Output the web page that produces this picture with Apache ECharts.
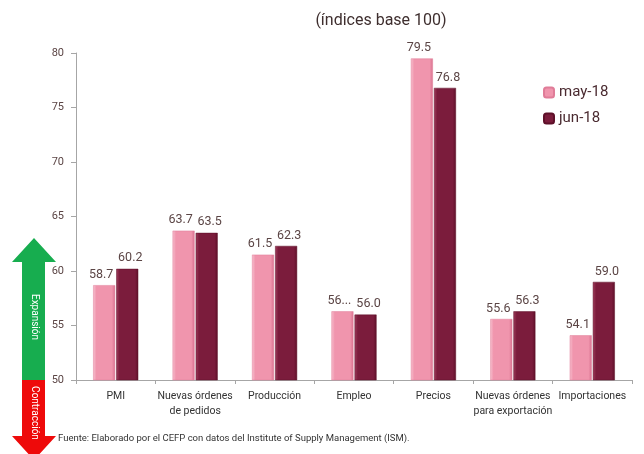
<!DOCTYPE html>
<html>
<head>
<meta charset="utf-8">
<script src="https://cdn.jsdelivr.net/npm/echarts@6/dist/echarts.min.js"></script>
<style>
  html, body { margin: 0; padding: 0; background: #fff; }
  #chart { width: 644px; height: 454px; }
</style>
</head>
<body>
<div id="chart"></div>
<script>
const categories = ['PMI', 'Nuevas órdenes\nde pedidos', 'Producción', 'Empleo', 'Precios', 'Nuevas órdenes\npara exportación', 'Importaciones']
const seriesNames = ['may-18', 'jun-18']
const may18 = [58.7, 63.7, 61.5, 56.3, 79.5, 55.6, 54.1]
const jun18 = [60.2, 63.5, 62.3, 56.0, 76.8, 56.3, 59.0]
// label text as shown on the chart (one was cut short)
const may18Labels = ['58.7', '63.7', '61.5', '56...', '79.5', '55.6', '54.1']
const yTicks = [50, 55, 60, 65, 70, 75, 80]

const FONT = 'Roboto'
const TEXT = '#5b4545'

const chart = echarts.init(document.getElementById('chart'))

function barGrad(light, mid, dark) {
  return new echarts.graphic.LinearGradient(0, 0, 1, 0, [
    { offset: 0, color: light },
    { offset: 0.15, color: mid },
    { offset: 0.85, color: mid },
    { offset: 1, color: dark },
  ])
}

const option = {
  backgroundColor: '#fff',
  animation: false,
  textStyle: { fontFamily: FONT },
  title: {
    text: '(índices base 100)',
    left: 376,
    textAlign: 'center',
    top: 8,
    textStyle: { fontFamily: FONT, fontSize: 16, fontWeight: 'normal', color: '#3e2e2e' },
  },
  legend: {
    orient: 'vertical',
    left: 538,
    top: 80,
    itemWidth: 10,
    itemHeight: 10,
    itemGap: 11,
    textStyle: { fontFamily: FONT, fontSize: 15, color: '#4a2a30' },
    data: seriesNames,
  },
  grid: { left: 76, right: 12, top: 53, bottom: 74 },
  xAxis: {
    type: 'category',
    data: categories,
    axisLine: { lineStyle: { color: '#a6a6a6' } },
    axisTick: { show: true, length: 4, lineStyle: { color: '#a6a6a6' } },
    axisLabel: { fontFamily: FONT, fontSize: 10.5, color: '#333', interval: 0, lineHeight: 15, margin: 9 },
  },
  yAxis: {
    type: 'value',
    min: yTicks[0],
    max: yTicks[yTicks.length - 1],
    interval: 5,
    axisLine: { show: true, lineStyle: { color: '#a6a6a6' } },
    axisTick: { show: true, length: 5, lineStyle: { color: '#a6a6a6' } },
    splitLine: { show: false },
    axisLabel: { fontFamily: FONT, fontSize: 11, color: TEXT, margin: 12 },
  },
  series: [
    {
      name: seriesNames[0],
      type: 'bar',
      data: may18,
      barWidth: 22,
      barGap: '5%',
      itemStyle: { color: barGrad('#f7c0cf', '#f095ad', '#d8718f'), borderColor: '#e07c98', borderWidth: 0.5 },
      label: {
        show: true,
        position: 'top',
        distance: 4,
        offset: [-3, 0],
        fontFamily: FONT,
        fontSize: 12.5,
        color: TEXT,
        formatter: p => may18Labels[p.dataIndex],
      },
    },
    {
      name: seriesNames[1],
      type: 'bar',
      data: jun18,
      barWidth: 22,
      itemStyle: { color: barGrad('#a03c5c', '#7b1c3c', '#5e1029'), borderColor: '#5e1029', borderWidth: 0.5 },
      label: {
        show: true,
        position: 'top',
        distance: 4,
        offset: [3, 0],
        fontFamily: FONT,
        fontSize: 12.5,
        color: TEXT,
        formatter: p => p.value.toFixed(1),
      },
    },
  ],
  graphic: [
    // green expansion arrow
    {
      type: 'polygon',
      shape: { points: [[34, 238], [56, 262], [45, 262], [45, 380], [22, 380], [22, 262], [12, 262]] },
      style: { fill: '#17ad4f' },
    },
    {
      type: 'text',
      x: 34, y: 317,
      rotation: -Math.PI / 2,
      style: { text: 'Expansión', fill: '#ffffff', font: '10px Roboto', align: 'center', verticalAlign: 'middle' },
    },
    // red contraction arrow
    {
      type: 'polygon',
      shape: { points: [[22, 380], [45, 380], [45, 436], [56, 436], [34, 460], [12, 436], [22, 436]] },
      style: { fill: '#ee0a0a' },
    },
    {
      type: 'text',
      x: 34, y: 413,
      rotation: -Math.PI / 2,
      style: { text: 'Contracción', fill: '#ffffff', font: '10px Roboto', align: 'center', verticalAlign: 'middle' },
    },
    {
      type: 'text',
      left: 58, top: 434,
      style: { text: 'Fuente: Elaborado por el CEFP con datos del Institute of Supply Management (ISM).', fill: '#333', font: '9.5px Roboto' },
    },
  ],
}

chart.setOption(option)
window.addEventListener('resize', () => chart.resize())
</script>
</body>
</html>
